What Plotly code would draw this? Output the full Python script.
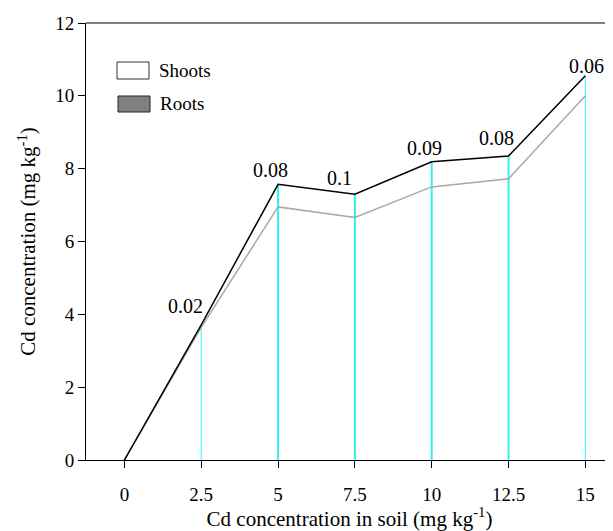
import plotly.graph_objects as go

soil_cd = [0, 2.5, 5, 7.5, 10, 12.5, 15]
roots = [0, 3.64, 6.95, 6.66, 7.50, 7.72, 10.00]
shoots = [0, 0.07, 0.62, 0.64, 0.69, 0.63, 0.55]
ratio_labels = ["", "0.02", "0.08", "0.1", "0.09", "0.08", "0.06"]
tick_labels = ["0", "2.5", "5", "7.5", "10", "12.5", "15"]

# label offsets (pixels) - styling only
label_xshift = [0, -16, -8, -15, -7, -12, 1]
label_yshift = [0, 6, 1, 3, 1, 5, -3]

totals = [r + s for r, s in zip(roots, shoots)]
FONT = "Liberation Serif"

fig = go.Figure()

# vertical drop lines
thin_x, thin_y, thick_x, thick_y = [], [], [], []
for i, (x, t) in enumerate(zip(soil_cd, totals)):
    if i == 0:
        continue
    if i in (1, len(soil_cd) - 1):
        thin_x += [x, x, None]
        thin_y += [0, t, None]
    else:
        thick_x += [x, x, None]
        thick_y += [0, t, None]
fig.add_trace(go.Scatter(x=thin_x, y=thin_y, mode="lines",
                         line=dict(color="#33f0f0", width=1), showlegend=False,
                         hoverinfo="skip"))
fig.add_trace(go.Scatter(x=thick_x, y=thick_y, mode="lines",
                         line=dict(color="#33f0f0", width=2), showlegend=False,
                         hoverinfo="skip"))

fig.add_trace(go.Scatter(x=soil_cd, y=roots, mode="lines", name="Roots",
                         line=dict(color="#a8a8a8", width=1.5), showlegend=False))
fig.add_trace(go.Scatter(x=soil_cd, y=totals, mode="lines", name="Shoots",
                         line=dict(color="black", width=1.5), showlegend=False))

for x, t, lab, dx, dy in zip(soil_cd, totals, ratio_labels, label_xshift, label_yshift):
    if lab:
        fig.add_annotation(x=x, y=t, text=lab, showarrow=False, xanchor="center",
                           yanchor="bottom", xshift=dx, yshift=dy,
                           font=dict(family=FONT, size=20, color="black"))

PW, PH = 527, 437
# manual legend
fig.add_shape(type="rect", xref="paper", yref="paper",
              x0=(117 - 86) / PW, x1=(149 - 86) / PW,
              y0=(460 - 79) / PH, y1=(460 - 62) / PH,
              line=dict(color="#333", width=1), fillcolor="white")
fig.add_shape(type="rect", xref="paper", yref="paper",
              x0=(118 - 86) / PW, x1=(150 - 86) / PW,
              y0=(460 - 112) / PH, y1=(460 - 96) / PH,
              line=dict(color="#222", width=1), fillcolor="#808080")
fig.add_annotation(xref="paper", yref="paper", x=(157 - 86) / PW, y=(460 - 71) / PH,
                   text="Shoots", showarrow=False, xanchor="left", yanchor="middle",
                   font=dict(family=FONT, size=19, color="black"))
fig.add_annotation(xref="paper", yref="paper", x=(158 - 86) / PW, y=(460 - 104) / PH,
                   text="Roots", showarrow=False, xanchor="left", yanchor="middle",
                   font=dict(family=FONT, size=19, color="black"))

# top frame line
fig.add_shape(type="line", xref="paper", yref="paper", x0=0, x1=1, y0=1, y1=1,
              line=dict(color="black", width=1))

fig.update_layout(
    width=605, height=523,
    margin=dict(l=78, r=0, t=15, b=71),
    paper_bgcolor="white", plot_bgcolor="white",
    font=dict(family=FONT, size=19, color="black"),
    xaxis=dict(range=[-1.25, 15.9], tickmode="array", tickvals=soil_cd,
               ticktext=tick_labels, showline=True, linecolor="black", linewidth=1,
               ticks="outside", ticklen=7, tickcolor="black", showgrid=False,
               zeroline=False, automargin=False, ticklabelstandoff=10,
               title=dict(text="Cd concentration in soil (mg kg<sup>-1</sup>)",
                          standoff=5, font=dict(size=21))),
    yaxis=dict(range=[0, 12], dtick=2, showline=True, linecolor="black", linewidth=1,
               ticks="outside", ticklen=7, tickcolor="black", showgrid=False,
               zeroline=False, automargin=False,
               title=dict(text="Cd concentration (mg kg<sup>-1</sup>)",
                          standoff=13, font=dict(size=21))),
)

fig.write_html("out.html")
